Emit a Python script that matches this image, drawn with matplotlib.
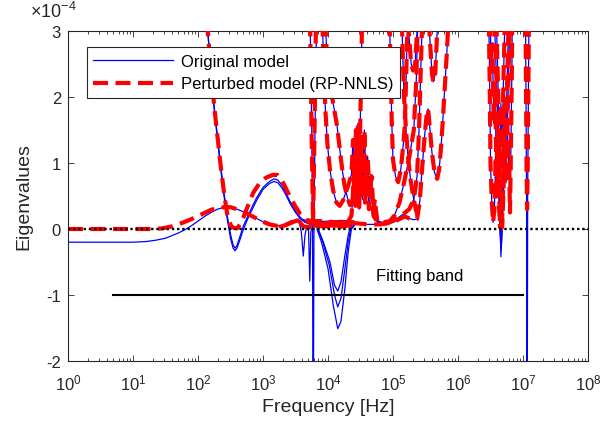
import numpy as np
import matplotlib
matplotlib.use("Agg")
import matplotlib.pyplot as plt
from matplotlib.lines import Line2D
from matplotlib.ticker import LogLocator, FixedLocator, NullFormatter, NullLocator

plt.rcParams['font.family'] = ['Liberation Sans', 'DejaVu Sans']
plt.rcParams['mathtext.default'] = 'regular'
plt.rcParams['axes.unicode_minus'] = False

# ---------------- data (log10 of frequency in Hz, eigenvalue in units of 1e-4) -------------
# curve A (low-frequency eigenvalue, later the rising branch near 3e5 Hz)
LOGF_A = [0.0, 0.5, 1.0, 1.2, 1.35, 1.5, 1.6, 1.7, 1.8, 1.9, 2.0, 2.1, 2.2, 2.3, 2.4, 2.5,
          2.6, 2.7, 2.8, 2.9, 3.0, 3.1, 3.2, 3.3, 3.4, 3.5, 3.6, 3.7, 3.8, 3.9, 4.0, 4.2,
          4.4, 4.6, 4.8, 5.0, 5.1, 5.18, 5.25, 5.32, 5.37, 5.41, 5.45, 5.49, 5.52, 5.54,
          5.57, 5.6, 5.64, 5.68, 5.71, 5.74, 5.77, 5.8, 5.83, 5.86, 5.9]
VAL_A = [-0.20, -0.20, -0.20, -0.19, -0.17, -0.14, -0.10, -0.06, -0.01, 0.05, 0.12, 0.19,
         0.25, 0.30, 0.33, 0.33, 0.30, 0.26, 0.21, 0.16, 0.11, 0.07, 0.05, 0.05, 0.08, 0.12,
         0.14, 0.13, 0.12, 0.12, 0.11, 0.10, 0.09, 0.07, 0.07, 0.10, 0.15, 0.19, 0.16, 0.14,
         0.15, 0.40, 0.94, 1.45, 1.75, 1.82, 1.50, 1.15, 0.85, 0.76, 0.90, 1.25, 1.70, 2.20,
         2.70, 3.30, 4.20]
# perturbed version of curve A below 300 Hz
LOGF_A_RED_LOW = [0.0, 0.5, 1.0, 1.3, 1.45, 1.6, 1.75, 1.9, 2.05, 2.2, 2.3, 2.4]
VAL_A_RED_LOW = [0.0, 0.0, 0.0, 0.0, 0.01, 0.04, 0.09, 0.15, 0.22, 0.29, 0.32, 0.33]

# curve B (falls from the top near 140 Hz), two original eigenvalues
LOGF_B = [1.9, 2.05, 2.15, 2.2, 2.25, 2.3, 2.35, 2.4, 2.45, 2.5, 2.54, 2.57, 2.6, 2.65, 2.7,
          2.75, 2.8, 2.9, 3.0, 3.1, 3.17, 3.23, 3.3, 3.36, 3.42, 3.5, 3.57, 3.65, 3.75, 3.9,
          4.1, 4.3]
VAL_B1 = [6.0, 4.0, 3.0, 2.4, 1.85, 1.4, 0.95, 0.55, 0.2, -0.08, -0.24, -0.29, -0.25, -0.10,
          0.05, 0.16, 0.27, 0.47, 0.63, 0.72, 0.76, 0.74, 0.65, 0.53, 0.41, 0.27, 0.18, 0.11,
          0.07, 0.05, 0.05, 0.06]
VAL_B2 = [6.0, 4.0, 3.0, 2.35, 1.8, 1.35, 0.9, 0.5, 0.15, -0.14, -0.29, -0.33, -0.29, -0.15,
          0.0, 0.12, 0.23, 0.43, 0.60, 0.69, 0.72, 0.70, 0.61, 0.50, 0.38, 0.25, 0.16, 0.10,
          0.06, 0.04, 0.04, 0.05]
LOGF_B_RED = [1.9, 2.05, 2.15, 2.2, 2.25, 2.3, 2.35, 2.4, 2.45, 2.5, 2.54, 2.6, 2.65, 2.7,
              2.78, 2.85, 2.95, 3.05, 3.15, 3.22, 3.3, 3.36, 3.42, 3.5, 3.57, 3.65, 3.72,
              3.8, 3.95, 4.1, 4.3]
VAL_B_RED = [6.0, 4.0, 3.0, 2.4, 1.85, 1.4, 0.95, 0.55, 0.22, 0.06, 0.02, 0.01, 0.07, 0.18,
             0.38, 0.55, 0.70, 0.78, 0.82, 0.82, 0.72, 0.60, 0.48, 0.34, 0.23, 0.15, 0.10,
             0.07, 0.06, 0.05, 0.06]

# curve C (small dips near 4-5 kHz)
LOGF_C = [3.25, 3.35, 3.45, 3.52, 3.56, 3.59, 3.62, 3.645, 3.67, 3.7, 3.72, 3.735, 3.76,
          3.85, 4.0, 4.2, 4.4]
VAL_C = [0.03, 0.06, 0.11, 0.15, 0.10, -0.05, -0.41, -0.10, 0.03, 0.0, -0.79, -0.05, 0.06,
         0.10, 0.12, 0.13, 0.12]
LOGF_C_RED = [3.25, 3.35, 3.45, 3.52, 3.57, 3.62, 3.68, 3.74, 3.8, 4.0, 4.2, 4.4]
VAL_C_RED = [0.03, 0.06, 0.11, 0.15, 0.10, 0.04, 0.03, 0.03, 0.07, 0.09, 0.10, 0.10]

# curve G (resonance spike near 5.9 kHz)
LOGF_G = [3.66, 3.72, 3.75, 3.762, 3.768, 3.776, 3.784, 3.8, 3.83, 3.88]
VAL_G = [6.0, 3.5, 1.5, 0.0, -2.5, -2.5, 0.0, 1.5, 3.5, 6.0]
LOGF_G_RED = [3.66, 3.72, 3.75, 3.77, 3.79, 3.82, 3.87]
VAL_G_RED = [6.0, 3.5, 1.3, 0.08, 1.3, 3.5, 6.0]

# curves D (three negative dips near 14 kHz, original model only)
LOGF_D3 = [3.83, 3.9, 4.0, 4.08, 4.15, 4.2, 4.26, 4.31, 4.36, 4.4]
VAL_D3 = [0.0, -0.2, -0.6, -1.15, -1.51, -1.4, -0.9, -0.35, 0.0, 0.05]
LOGF_D2 = [3.84, 3.92, 4.02, 4.1, 4.15, 4.2, 4.26, 4.31, 4.35, 4.4]
VAL_D2 = [0.0, -0.2, -0.55, -1.0, -1.18, -1.05, -0.6, -0.2, 0.0, 0.05]
LOGF_D1 = [3.85, 3.93, 4.03, 4.1, 4.15, 4.2, 4.26, 4.31, 4.34, 4.4]
VAL_D1 = [0.0, -0.2, -0.5, -0.85, -0.94, -0.8, -0.4, -0.1, 0.02, 0.06]
LOGF_D_RED = [3.8, 3.95, 4.1, 4.25, 4.35, 4.45]
VAL_D_RED = [0.05, 0.04, 0.03, 0.04, 0.06, 0.08]

# curves F / H (U-shapes and the dense cluster 20-60 kHz)
LOGF_F1 = [3.85, 3.9, 3.93, 3.96, 3.99, 4.03, 4.08, 4.13, 4.18, 4.23, 4.28, 4.33, 4.36,
           4.385, 4.41, 4.43, 4.45, 4.47, 4.49, 4.51, 4.53, 4.55, 4.57, 4.6, 4.63, 4.66,
           4.7, 4.75, 4.85, 4.95, 5.02, 5.1, 5.18, 5.26, 5.32, 5.36, 5.39, 5.42]
VAL_F1 = [6.0, 3.6, 2.6, 1.8, 1.3, 0.9, 0.58, 0.4, 0.35, 0.43, 0.57, 0.72, 0.82, 1.35, 0.7,
          1.5, 0.6, 1.3, 0.5, 1.4, 0.7, 1.2, 0.4, 0.9, 0.3, 0.6, 0.2, 0.12, 0.10, 0.12, 0.2,
          0.4, 0.75, 1.14, 1.5, 2.3, 3.5, 5.0]
LOGF_F2 = [3.88, 3.94, 3.98, 4.03, 4.08, 4.14, 4.2, 4.25, 4.3, 4.34, 4.38, 4.4, 4.42, 4.44,
           4.46, 4.48, 4.5, 4.515, 4.53, 4.56]
VAL_F2 = [6.0, 3.5, 2.7, 2.2, 1.9, 1.56, 1.05, 0.68, 0.47, 0.36, 0.4, 0.7, 1.1, 0.45, 1.6,
          0.8, 1.8, 2.6, 3.5, 5.0]
LOGF_H3 = [4.3, 4.36, 4.38, 4.4, 4.42, 4.45, 4.48, 4.5, 4.53, 4.56, 4.58, 4.61, 4.64, 4.67,
           4.7, 4.72, 4.76, 4.85, 4.95, 5.05, 5.15, 5.25, 5.32, 5.37, 5.4, 5.43, 5.46]
VAL_H3 = [0.1, 0.2, 0.45, 0.9, 0.35, 1.0, 0.3, 1.2, 0.45, 1.5, 0.8, 1.1, 0.5, 0.8, 0.25,
          0.45, 0.1, 0.08, 0.1, 0.15, 0.22, 0.3, 0.45, 0.8, 1.5, 2.5, 3.5]

# curves E (U-shapes 80 kHz - 700 kHz)
LOGF_E1 = [4.9, 4.95, 4.97, 4.98, 5.0, 5.04, 5.08, 5.12, 5.16, 5.18, 5.2, 5.22, 5.25]
VAL_E1 = [4.5, 3.0, 2.2, 1.65, 1.05, 0.79, 0.71, 0.9, 1.3, 1.55, 2.2, 3.0, 4.0]
LOGF_E2 = [5.2, 5.24, 5.28, 5.31, 5.34, 5.37, 5.4]
VAL_E2 = [4.5, 3.0, 2.5, 2.4, 2.5, 3.0, 4.0]
LOGF_E3 = [5.52, 5.56, 5.6, 5.62, 5.65, 5.68, 5.72]
VAL_E3 = [4.0, 3.0, 2.35, 2.23, 2.35, 3.0, 4.0]
LOGF_E6 = [5.1, 5.14, 5.17, 5.2, 5.23, 5.27, 5.31, 5.35, 5.38]
VAL_E6 = [4.5, 3.0, 2.0, 1.5, 1.1, 0.75, 0.5, 0.3, 0.2]

# curves I (cluster near 3-6 MHz)
LOGF_I1 = [6.42, 6.47, 6.49, 6.5, 6.52, 6.54, 6.56, 6.58, 6.6, 6.62, 6.64, 6.66, 6.68,
           6.7, 6.73, 6.76]
VAL_I1 = [6.0, 3.5, 2.0, 1.0, 0.4, 0.1, 0.3, 1.1, 0.5, 1.5, 0.8, 1.9, 1.2, 2.3, 3.5, 6.0]
LOGF_I2 = [6.45, 6.49, 6.51, 6.53, 6.55, 6.57, 6.59, 6.61, 6.63, 6.65, 6.66, 6.675, 6.69,
           6.71, 6.73, 6.75, 6.78, 6.82]
VAL_I2 = [6.0, 3.5, 2.4, 2.8, 1.6, 2.2, 0.9, 1.4, 0.4, 0.0, -0.42, -0.1, 0.5, 1.4, 0.9,
          2.0, 3.2, 6.0]
VAL_I2_RED = [6.0, 3.5, 2.4, 2.8, 1.6, 2.2, 0.9, 1.4, 0.4, 0.05, 0.02, 0.05, 0.5, 1.4, 0.9,
              2.0, 3.2, 6.0]
LOGF_I3 = [6.5, 6.55, 6.58, 6.6, 6.62, 6.64, 6.65, 6.665, 6.68, 6.7, 6.72, 6.74, 6.76,
           6.78, 6.8, 6.83]
VAL_I3 = [6.0, 3.5, 2.6, 2.0, 1.2, 0.5, 0.0, -0.3, 0.0, 0.6, 1.3, 0.7, 1.6, 2.4, 3.3, 6.0]
VAL_I3_RED = [6.0, 3.5, 2.6, 2.0, 1.2, 0.5, 0.03, 0.01, 0.03, 0.6, 1.3, 0.7, 1.6, 2.4, 3.3,
              6.0]
LOGF_I4 = [6.52, 6.58, 6.6, 6.62, 6.635, 6.645, 6.655, 6.67, 6.69, 6.72, 6.76, 6.79, 6.8,
           6.81, 6.83, 6.85]
VAL_I4 = [6.0, 3.5, 2.8, 2.0, 0.8, 0.0, -0.2, 0.1, 1.0, 2.0, 1.5, 0.8, 0.25, 0.9, 2.5, 6.0]
VAL_I4_RED = [6.0, 3.5, 2.8, 2.0, 0.8, 0.04, 0.02, 0.1, 1.0, 2.0, 1.5, 0.8, 0.25, 0.9, 2.5,
              6.0]

# curve J (resonance spike near 11 MHz)
LOGF_J = [6.98, 7.04, 7.055, 7.06, 7.066, 7.072, 7.09, 7.14]
VAL_J = [6.0, 3.0, 0.5, -2.5, -2.5, 0.5, 3.0, 6.0]
LOGF_J_RED = [6.98, 7.04, 7.055, 7.063, 7.072, 7.09, 7.14]
VAL_J_RED = [6.0, 3.0, 0.9, 0.3, 0.9, 3.0, 6.0]

# fitting band
BAND_F = [5.0, 1.0e7]
BAND_VAL = [-1.0, -1.0]
BAND_LABEL = "Fitting band"

X_TICKS = [1e0, 1e1, 1e2, 1e3, 1e4, 1e5, 1e6, 1e7, 1e8]
Y_TICKS = [-2, -1, 0, 1, 2, 3]

# --------------------------------------------------------------------------------------------
blue_curves = [
    (LOGF_A, VAL_A), (LOGF_B, VAL_B1), (LOGF_B, VAL_B2), (LOGF_C, VAL_C), (LOGF_G, VAL_G),
    (LOGF_D1, VAL_D1), (LOGF_D2, VAL_D2), (LOGF_D3, VAL_D3), (LOGF_F1, VAL_F1),
    (LOGF_F2, VAL_F2), (LOGF_H3, VAL_H3), (LOGF_E1, VAL_E1), (LOGF_E2, VAL_E2),
    (LOGF_E3, VAL_E3), (LOGF_E6, VAL_E6), (LOGF_I1, VAL_I1), (LOGF_I2, VAL_I2),
    (LOGF_I3, VAL_I3), (LOGF_I4, VAL_I4), (LOGF_J, VAL_J),
]

a_tail = [i for i, v in enumerate(LOGF_A) if v >= 2.5]
LOGF_A_RED = LOGF_A_RED_LOW + [LOGF_A[i] for i in a_tail]
VAL_A_RED = VAL_A_RED_LOW + [VAL_A[i] for i in a_tail]

red_curves = [
    (LOGF_A_RED, VAL_A_RED), (LOGF_B_RED, VAL_B_RED), (LOGF_C_RED, VAL_C_RED),
    (LOGF_G_RED, VAL_G_RED), (LOGF_D_RED, VAL_D_RED), (LOGF_F1, VAL_F1), (LOGF_F2, VAL_F2),
    (LOGF_H3, VAL_H3), (LOGF_E1, VAL_E1), (LOGF_E2, VAL_E2), (LOGF_E3, VAL_E3),
    (LOGF_E6, VAL_E6), (LOGF_I1, VAL_I1), (LOGF_I2, VAL_I2_RED), (LOGF_I3, VAL_I3_RED),
    (LOGF_I4, VAL_I4_RED), (LOGF_J_RED, VAL_J_RED),
]

fig = plt.figure(figsize=(6.15, 4.27), dpi=100)
ax = fig.add_axes([68 / 615, 1 - 362 / 427, 520 / 615, 330 / 427])

for lf, v in blue_curves:
    ax.plot(np.power(10.0, lf), v, color=(0, 0, 1), lw=0.9, zorder=2)

for lf, v in red_curves:
    ax.plot(np.power(10.0, lf), v, color=(1, 0, 0), lw=3.0, linestyle=(0, (3.6, 1.8)),
            zorder=3)

ax.axhline(0, color='black', lw=1.7, linestyle=(0, (1, 1.2)), zorder=4)
ax.plot(BAND_F, BAND_VAL, color='black', lw=1.5, zorder=4)
ax.text(2.6e5, -0.71, BAND_LABEL, fontsize=12, ha='center', va='center', zorder=5)

ax.set_xscale('log')
ax.set_xlim(1e0, 1e8)
ax.set_ylim(-2, 3)
ax.xaxis.set_major_locator(FixedLocator(X_TICKS))
ax.xaxis.set_minor_locator(LogLocator(base=10, subs=np.arange(2, 10), numticks=100))
ax.xaxis.set_minor_formatter(NullFormatter())
ax.set_yticks(Y_TICKS)
ax.yaxis.set_minor_locator(NullLocator())
ax.set_yticklabels([str(t) for t in Y_TICKS])

ax.tick_params(which='both', direction='in', top=True, right=True, colors='0.15',
               labelcolor='0.15', labelsize=12)
ax.tick_params(which='major', length=4.5, width=0.6)
ax.tick_params(which='minor', length=2.5, width=0.6)
ax.tick_params(axis='x', which='major', pad=8)
ax.tick_params(axis='y', which='major', pad=5)
for s in ax.spines.values():
    s.set_color('0.15')
    s.set_linewidth(0.8)

ax.set_xlabel('Frequency [Hz]', fontsize=14, color='0.15', labelpad=4)
ax.set_ylabel('Eigenvalues', fontsize=14, color='0.15', labelpad=10)
ax.text(-0.074, 1.03, r'$\times$10$^{-4}$', transform=ax.transAxes, fontsize=13,
        color='0.15', ha='left', va='bottom')

handles = [Line2D([], [], color=(0, 0, 1), lw=0.9),
           Line2D([], [], color=(1, 0, 0), lw=3.0, linestyle=(0, (3.6, 1.8)))]
leg = ax.legend(handles, ['Original model', 'Perturbed model (RP-NNLS)'],
                loc='upper left', bbox_to_anchor=(0.036, 0.951), borderaxespad=0,
                fontsize=12, fancybox=False, framealpha=1, edgecolor='0.15',
                handlelength=4.8, handletextpad=0.45, labelspacing=0.45, borderpad=0.4)
leg.get_frame().set_linewidth(0.8)
leg.set_zorder(10)

fig.savefig('out.png', dpi=100)
